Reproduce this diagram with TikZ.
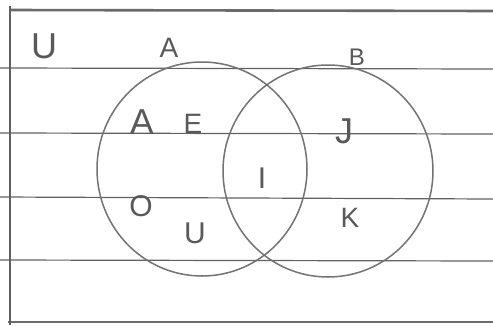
\documentclass[tikz,border=0pt]{standalone}
\usepackage{fontspec}
\setmainfont{Liberation Sans}
\begin{document}
\begin{tikzpicture}[x=1pt,y=-1pt,
  rule/.style={draw=black!62,line width=1.2pt},
  border/.style={draw=black!58,line width=2.6pt},
  setcircle/.style={draw=black!55,line width=1.5pt},
  letter/.style={text=black!65,inner sep=0pt,font=\fontsize{#1}{#1}\selectfont},
  letter/.default=30]
\useasboundingbox (0,0) rectangle (493,325);
\fill[white] (0,0) rectangle (493,325);
% paper rules
\coordinate (tl) at (10,10); \coordinate (tr) at (493,11);
\coordinate (bl) at (8,322); \coordinate (br) at (493,322);
\coordinate (ml) at (10,6); \coordinate (mb) at (10,325);
\draw[border] (tl) -- (tr);
\draw[border] (bl) -- (br);
\draw[rule,line width=1.6pt] (ml) -- (mb);
\coordinate (r1a) at (0,68); \coordinate (r1b) at (493,69);
\coordinate (r2a) at (0,133); \coordinate (r2b) at (493,134);
\coordinate (r3a) at (0,197); \coordinate (r3b) at (493,199);
\coordinate (r4a) at (0,260); \coordinate (r4b) at (493,261);
\draw[rule] (r1a) -- (r1b);
\draw[rule] (r2a) -- (r2b);
\draw[rule] (r3a) -- (r3b);
\draw[rule] (r4a) -- (r4b);
% sets
\coordinate (ca) at (202,169);
\coordinate (cb) at (328,171);
\draw[setcircle] (ca) ellipse [x radius=105, y radius=107];
\draw[setcircle] (cb) ellipse [x radius=105, y radius=106];
% labels
\node[letter=36] (u) at (44,46) {U};
\node[letter=28] (la) at (169,48) {A};
\node[letter=24] (lb) at (357,57) {B};
\node[letter=36] (a) at (142,122) {A};
\node[letter=28] (e) at (193,124) {E};
\node[letter=36] (j) at (344,131) {J};
\node[letter=30] (i) at (262,178) {I};
\node[letter=30] (o) at (141,206) {O};
\node[letter=30] (uu) at (195,233) {U};
\node[letter=28] (k) at (350,218) {K};
\end{tikzpicture}
\end{document}
